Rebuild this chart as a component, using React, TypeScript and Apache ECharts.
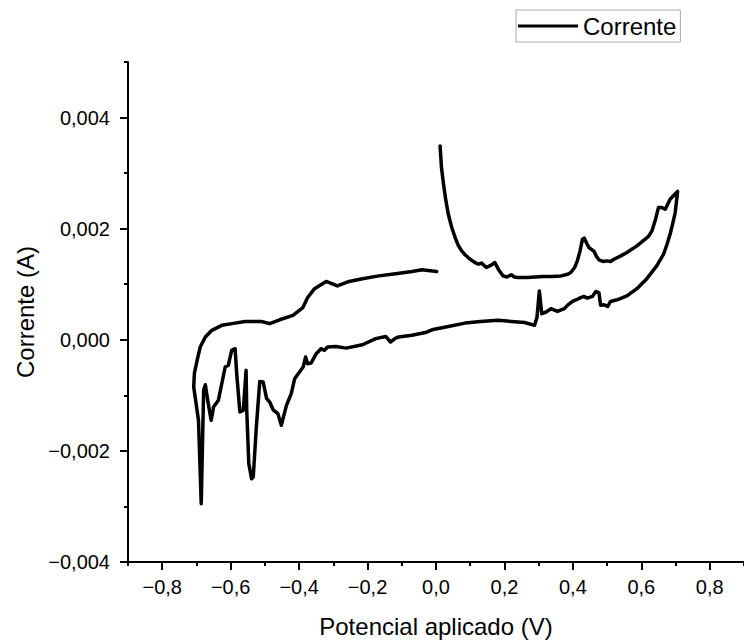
import React, { useEffect, useRef } from "react";
import * as echarts from "echarts";

// Potencial aplicado (V)
const potencial: number[] = [
  0.012, 0.016, 0.022, 0.029, 0.036, 0.046, 0.056, 0.065, 0.075, 0.085, 0.094, 0.104, 0.114, 0.124, 0.133, 0.147, 0.16, 0.172, 0.184, 0.196,
  0.207, 0.22, 0.229, 0.239, 0.268, 0.29, 0.312, 0.34, 0.365, 0.385, 0.394, 0.405, 0.413, 0.421, 0.428, 0.433, 0.44, 0.447, 0.462, 0.469,
  0.476, 0.488, 0.5, 0.51, 0.52, 0.54, 0.558, 0.587, 0.621, 0.631, 0.642, 0.65, 0.66, 0.67, 0.684, 0.698, 0.706,
  0.699, 0.692, 0.684, 0.675, 0.665, 0.645, 0.616, 0.587, 0.558, 0.529, 0.51, 0.502, 0.491, 0.481, 0.476, 0.467, 0.457, 0.442, 0.432, 0.423,
  0.413, 0.399, 0.384, 0.375, 0.355, 0.336, 0.322, 0.309, 0.302, 0.295, 0.288, 0.259, 0.22, 0.181, 0.13, 0.085, 0.036, -0.012, -0.031, -0.07,
  -0.109, -0.118, -0.133, -0.147, -0.176, -0.215, -0.263, -0.292, -0.317, -0.326, -0.336, -0.35, -0.365, -0.375, -0.381, -0.388, -0.399, -0.413, -0.423, -0.437,
  -0.452, -0.462, -0.476, -0.486, -0.495, -0.505, -0.515, -0.525, -0.534, -0.539, -0.547, -0.553, -0.555, -0.563, -0.573, -0.582, -0.587, -0.597, -0.607, -0.616,
  -0.636, -0.65, -0.657, -0.667, -0.674, -0.679, -0.686, -0.694, -0.708,
  -0.706, -0.698, -0.689, -0.674, -0.655, -0.626, -0.587, -0.558, -0.51, -0.486, -0.457, -0.418, -0.389, -0.375, -0.355, -0.321, -0.288, -0.254, -0.215, -0.167,
  -0.118, -0.07, -0.041, 0.002,
];

// Corrente (A)
const corrente: number[] = [
  0.00349, 0.0031, 0.0028, 0.0025, 0.00226, 0.00202, 0.00184, 0.0017, 0.0016, 0.00153, 0.00148, 0.00143, 0.00139, 0.00136, 0.00138, 0.0013, 0.00134, 0.00139, 0.00125, 0.00115,
  0.00113, 0.00117, 0.00113, 0.00112, 0.00112, 0.00113, 0.00114, 0.00114, 0.00115, 0.00118, 0.00121, 0.0013, 0.00142, 0.0016, 0.00181, 0.00183, 0.00174, 0.00166, 0.00159, 0.0015,
  0.00144, 0.00141, 0.00142, 0.00141, 0.00145, 0.00151, 0.00157, 0.00169, 0.00186, 0.00196, 0.00218, 0.00238, 0.00238, 0.00235, 0.00253, 0.00262, 0.00267,
  0.00229, 0.0021, 0.0019, 0.00172, 0.00154, 0.00133, 0.0011, 0.00092, 0.00079, 0.00072, 0.00069, 0.0006, 0.00063, 0.00062, 0.00085, 0.00087, 0.00078, 0.00075, 0.00078, 0.00076,
  0.00073, 0.00069, 0.00062, 0.00056, 0.00051, 0.00056, 0.0005, 0.00047, 0.00088, 0.0004, 0.00026, 0.00031, 0.00033, 0.00035, 0.00033, 0.0003, 0.00024, 0.00018, 0.00013, 0.00008,
  0.00005, 0.00003, -0.00004, 0.00006, 0.00002, -0.00009, -0.00015, -0.00012, -0.00013, -0.00019, -0.00016, -0.00025, -0.00042, -0.00043, -0.00031, -0.00049, -0.00058, -0.0007, -0.00097, -0.00118,
  -0.00154, -0.00133, -0.00126, -0.00112, -0.00106, -0.00076, -0.00075, -0.00157, -0.00247, -0.0025, -0.00223, -0.00127, -0.00055, -0.00127, -0.0013, -0.00064, -0.00016, -0.00019, -0.00046, -0.00049,
  -0.00109, -0.00121, -0.00145, -0.00109, -0.00081, -0.00091, -0.00295, -0.00145, -0.00085,
  -0.0006, -0.00037, -0.00013, 0.00005, 0.00017, 0.00026, 0.0003, 0.00033, 0.00033, 0.00029, 0.00036, 0.00044, 0.00058, 0.00076, 0.00092, 0.00105, 0.00097, 0.00105, 0.0011, 0.00115,
  0.00119, 0.00123, 0.00126, 0.00123,
];

const xMajorTicks: number[] = [-0.8, -0.6, -0.4, -0.2, 0, 0.2, 0.4, 0.6, 0.8];
const xMinorTicks: number[] = [-0.9, -0.7, -0.5, -0.3, -0.1, 0.1, 0.3, 0.5, 0.7, 0.9];
const yMajorTicks: number[] = [-0.004, -0.002, 0, 0.002, 0.004];
const yMinorTicks: number[] = [-0.003, -0.001, 0.001, 0.003, 0.005];

const seriesName = "Corrente";
const xTitle = "Potencial aplicado (V)";
const yTitle = "Corrente (A)";

const FONT = "'Liberation Sans', Arial, sans-serif";

function fmt(v: number, digits: number): string {
  const val = Math.abs(v) < 1e-12 ? 0 : v;
  return val.toFixed(digits).replace(".", ",").replace("-", "\u2212");
}

export default function App() {
  const ref = useRef<HTMLDivElement>(null);
  useEffect(() => {
    if (!ref.current) return;
    const chart = echarts.init(ref.current, undefined, { renderer: "svg" });
    const data = potencial.map((x, i) => [x, corrente[i]]);
    const axisLine = { show: true, onZero: false, lineStyle: { color: "#000", width: 2 } };
    chart.setOption({
      animation: false,
      backgroundColor: "#fff",
      textStyle: { fontFamily: FONT },
      grid: { left: 128, top: 62, width: 620, height: 500, containLabel: false },
      legend: {
        show: true,
        left: 516,
        top: 10,
        padding: [4, 4, 4, 2],
        borderColor: "#aaa",
        borderWidth: 1,
        itemWidth: 60,
        itemHeight: 14,
        itemGap: 10,
        textStyle: { fontSize: 24, color: "#000", fontFamily: FONT },
        data: [{ name: seriesName, icon: "path://M0,6 L60,6 L60,9 L0,9 Z" }],
        itemStyle: { color: "#000" },
      },
      xAxis: [
        {
          type: "value",
          min: -0.9,
          max: 0.9,
          name: xTitle,
          nameLocation: "middle",
          nameGap: 52,
          nameTextStyle: { fontSize: 24, color: "#000", fontFamily: FONT },
          axisLine,
          splitLine: { show: false },
          axisTick: { show: true, inside: false, length: 8, customValues: xMajorTicks, lineStyle: { color: "#000", width: 2 } },
          axisLabel: {
            show: true,
            customValues: xMajorTicks,
            margin: 15,
            fontSize: 20,
            color: "#000",
            fontFamily: FONT,
            formatter: (v: number) => fmt(v, 1),
          },
        },
        {
          type: "value",
          min: -0.9,
          max: 0.9,
          position: "bottom",
          axisLine: { show: false, onZero: false },
          splitLine: { show: false },
          axisTick: { show: true, length: 4, customValues: xMinorTicks, lineStyle: { color: "#000", width: 2 } },
          axisLabel: { show: false },
        },
      ],
      yAxis: [
        {
          type: "value",
          min: -0.004,
          max: 0.005,
          name: yTitle,
          nameLocation: "middle",
          nameGap: 88,
          nameRotate: 90,
          nameTextStyle: { fontSize: 24, color: "#000", fontFamily: FONT },
          axisLine,
          splitLine: { show: false },
          axisTick: { show: true, length: 8, customValues: yMajorTicks, lineStyle: { color: "#000", width: 2 } },
          axisLabel: {
            show: true,
            customValues: yMajorTicks,
            margin: 18,
            fontSize: 20,
            color: "#000",
            fontFamily: FONT,
            formatter: (v: number) => fmt(v, 3),
          },
        },
        {
          type: "value",
          min: -0.004,
          max: 0.005,
          position: "left",
          axisLine: { show: false, onZero: false },
          splitLine: { show: false },
          axisTick: { show: true, length: 4, customValues: yMinorTicks, lineStyle: { color: "#000", width: 2 } },
          axisLabel: { show: false },
        },
      ],
      series: [
        {
          name: seriesName,
          type: "line",
          xAxisIndex: 0,
          yAxisIndex: 0,
          data,
          symbol: "none",
          showSymbol: false,
          smooth: false,
          clip: false,
          lineStyle: { color: "#000", width: 3.5, join: "round", cap: "round" },
          itemStyle: { color: "#000" },
        },
      ],
    });
    return () => chart.dispose();
  }, []);
  return <div ref={ref} style={{ width: 744, height: 644, position: "absolute", left: 0, top: 0 }} />;
}
